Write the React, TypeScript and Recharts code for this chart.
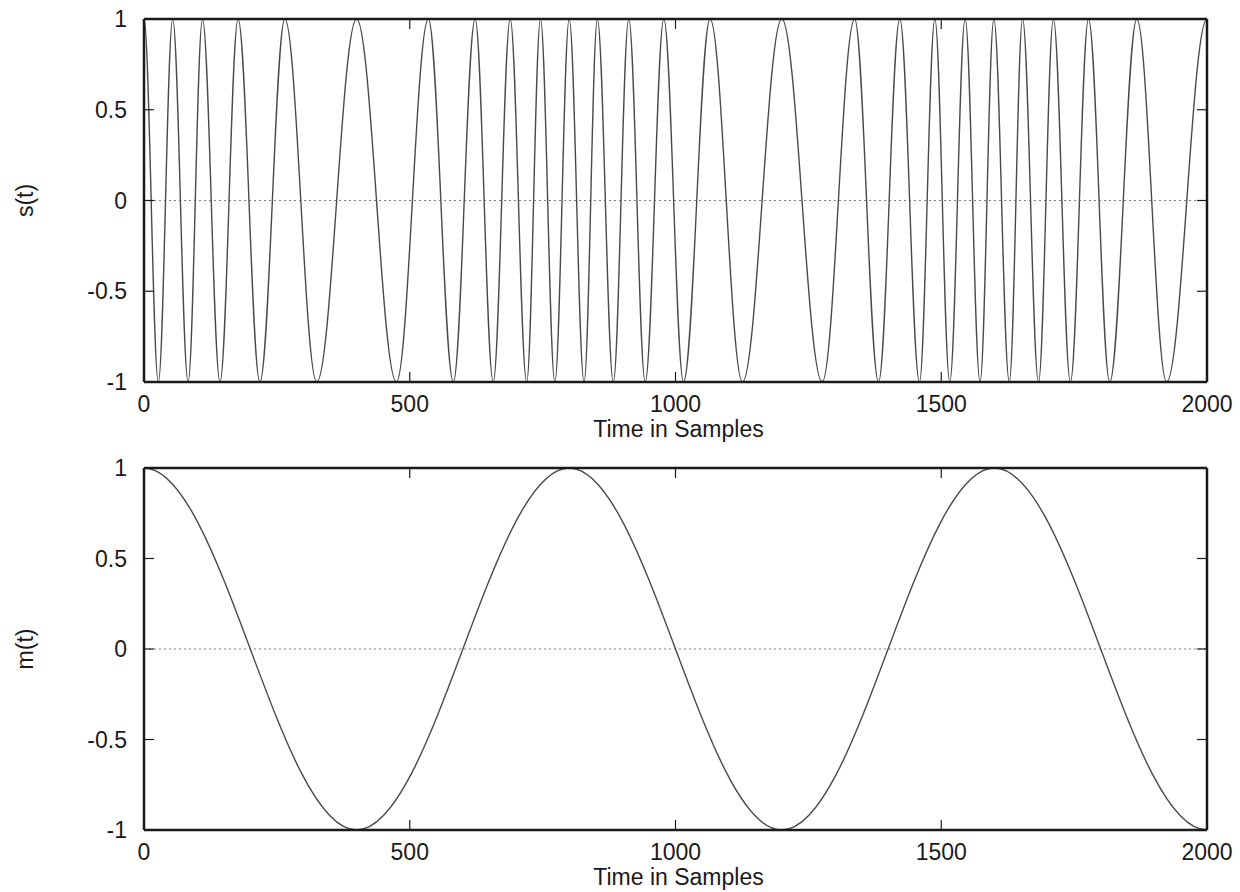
import { LineChart, Line, XAxis, YAxis, ReferenceLine } from "recharts";

// s(t): sample positions of the crests (+1) and troughs (-1)
const sPeakTimes = [
  0, 54, 110, 177, 265, 400, 535, 623, 689, 746, 800, 853, 912, 978, 1065, 1200,
  1337, 1422, 1488, 1545, 1599, 1653, 1711, 1777, 1868, 2000,
];
const sTroughTimes = [
  27, 83, 143, 218, 325, 475, 582, 657, 720, 773, 828, 883, 943, 1015, 1126, 1276,
  1382, 1459, 1516, 1573, 1628, 1683, 1743, 1817, 1924,
];

// m(t): crests and troughs of the message signal, bottom panel
const mPeakTimes = [0, 800, 1600];
const mTroughTimes = [400, 1200, 2000];

const xTicks = [0, 500, 1000, 1500, 2000];
const yTicks = [-1, -0.5, 0, 0.5, 1];

const font = '"Liberation Sans", Arial, Helvetica, sans-serif';
const ink = "#1a1a1a";
const tickLen = 10;

function toSeries(peaks: number[], troughs: number[]) {
  return [
    ...peaks.map((t) => ({ t, v: 1 })),
    ...troughs.map((t) => ({ t, v: -1 })),
  ].sort((a, b) => a.t - b.t);
}

const sData = toSeries(sPeakTimes, sTroughTimes);
const mData = toSeries(mPeakTimes, mTroughTimes);

// every point is a crest or a trough, so join them with flat tangents;
// k = 1 - 2/pi makes the slope at mid-swing match a sinusoid
const k = 1 - 2 / Math.PI;
function swingCurve(context: any) {
  let px = 0;
  let py = 0;
  let started = false;
  return {
    areaStart() {},
    areaEnd() {},
    lineStart() {
      started = false;
    },
    lineEnd() {},
    point(x: number, y: number) {
      x = +x;
      y = +y;
      if (!started) {
        context.moveTo(x, y);
        started = true;
      } else {
        const dx = x - px;
        context.bezierCurveTo(px + k * dx, py, x - k * dx, y, x, y);
      }
      px = x;
      py = y;
    },
  };
}

function BottomTick({ x, y, payload }: any) {
  return (
    <g>
      <line x1={x} x2={x} y1={y} y2={y - tickLen} stroke={ink} strokeWidth={1.2} />
      <text x={x} y={y + 30} textAnchor="middle" fontSize={23} fontFamily={font} fill={ink}>
        {payload.value}
      </text>
    </g>
  );
}

function TopTick({ x, y }: any) {
  return <line x1={x} x2={x} y1={y} y2={y + tickLen} stroke={ink} strokeWidth={1.2} />;
}

function LeftTick({ x, y, payload }: any) {
  return (
    <g>
      <line x1={x} x2={x + tickLen} y1={y} y2={y} stroke={ink} strokeWidth={1.2} />
      <text x={x - 17} y={y + 8} textAnchor="end" fontSize={23} fontFamily={font} fill={ink}>
        {payload.value}
      </text>
    </g>
  );
}

function RightTick({ x, y }: any) {
  return <line x1={x} x2={x - tickLen} y1={y} y2={y} stroke={ink} strokeWidth={1.2} />;
}

interface PanelProps {
  data: { t: number; v: number }[];
  yLabel: string;
  top: number;
  height: number;
  marginTop: number;
  axisHeight: number;
}

function Panel({ data, yLabel, top, height, marginTop, axisHeight }: PanelProps) {
  const frame = { stroke: ink, strokeWidth: 2.5 };
  return (
    <div style={{ position: "absolute", left: 0, top }}>
      <LineChart
        width={1240}
        height={height}
        data={data}
        margin={{ top: marginTop - 1, right: 32, bottom: 0, left: 104 }}
      >
        <XAxis
          dataKey="t"
          type="number"
          domain={[0, 2000]}
          ticks={xTicks}
          height={axisHeight}
          tickSize={0}
          tickMargin={0}
          tickLine={false}
          axisLine={false}
          tick={<BottomTick />}
          label={{
            content: ({ viewBox }: any) => (
              <text
                x={viewBox.x + viewBox.width / 2 + 3}
                y={viewBox.y + 55}
                textAnchor="middle"
                fontSize={23}
                fontFamily={font}
                fill={ink}
              >
                Time in Samples
              </text>
            ),
          }}
        />
        <XAxis
          xAxisId="top"
          orientation="top"
          dataKey="t"
          type="number"
          domain={[0, 2000]}
          ticks={xTicks}
          height={1}
          tickSize={0}
          tickMargin={0}
          tickLine={false}
          axisLine={false}
          tick={<TopTick />}
        />
        <YAxis
          type="number"
          domain={[-1, 1]}
          ticks={yTicks}
          width={40}
          tickSize={0}
          tickMargin={0}
          tickLine={false}
          axisLine={false}
          tick={<LeftTick />}
          label={{
            content: ({ viewBox }: any) => {
              const cx = viewBox.x - 79;
              const cy = viewBox.y + viewBox.height / 2;
              return (
                <text
                  x={cx}
                  y={cy}
                  transform={`rotate(-90, ${cx}, ${cy})`}
                  textAnchor="middle"
                  dominantBaseline="central"
                  fontSize={23}
                  fontFamily={font}
                  fill={ink}
                >
                  {yLabel}
                </text>
              );
            },
          }}
        />
        <YAxis
          yAxisId="right"
          orientation="right"
          type="number"
          domain={[-1, 1]}
          ticks={yTicks}
          width={1}
          tickSize={0}
          tickMargin={0}
          tickLine={false}
          axisLine={false}
          tick={<RightTick />}
        />
        <ReferenceLine y={0} stroke="#808080" strokeWidth={1.2} strokeDasharray="2 3" />
        <Line
          type={swingCurve as any}
          dataKey="v"
          stroke="#4a4a4a"
          strokeWidth={1.4}
          dot={false}
          activeDot={false}
          isAnimationActive={false}
        />
        <Line
          xAxisId="top"
          yAxisId="right"
          dataKey="v"
          stroke="none"
          dot={false}
          activeDot={false}
          legendType="none"
          isAnimationActive={false}
        />
        <ReferenceLine y={1} {...frame} />
        <ReferenceLine y={-1} {...frame} />
        <ReferenceLine x={0} {...frame} />
        <ReferenceLine x={2000} {...frame} />
      </LineChart>
    </div>
  );
}

export default function App() {
  return (
    <div
      style={{
        position: "absolute",
        left: 0,
        top: 0,
        width: 1240,
        height: 892,
        background: "#fff",
        fontFamily: font,
      }}
    >
      <Panel data={sData} yLabel="s(t)" top={0} height={446} marginTop={19} axisHeight={64} />
      <Panel data={mData} yLabel="m(t)" top={448} height={444} marginTop={20} axisHeight={62} />
    </div>
  );
}
